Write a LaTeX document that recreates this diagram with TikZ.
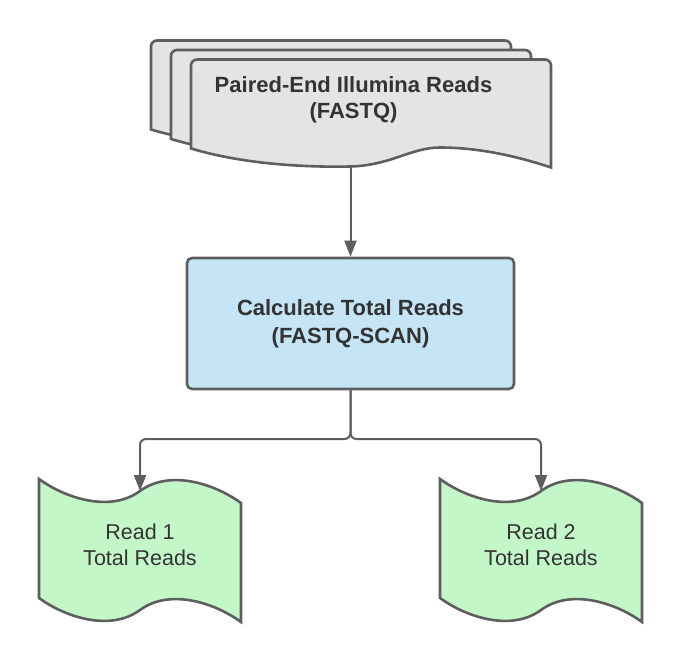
\documentclass[tikz,border=0pt]{standalone}
\usepackage{fontspec}
\setmainfont{Liberation Sans}
\usepackage{xcolor}
\usetikzlibrary{arrows.meta}
\definecolor{edgegray}{HTML}{5E5E5E}
\definecolor{textgray}{HTML}{333333}
\definecolor{sheetgray}{HTML}{E4E4E4}
\definecolor{procblue}{HTML}{C5E5F6}
\definecolor{readgreen}{HTML}{C3F7C8}

\begin{document}
\begin{tikzpicture}[x=1pt, y=-1pt,
            outline/.style={draw=edgegray, line width=2.6pt},
            txt/.style={text=textgray, align=center, font=\fontsize{21.5}{26.5}\selectfont},
            boldtxt/.style={txt, font=\fontsize{22}{26}\selectfont\bfseries},
            conn/.style={draw=edgegray, line width=2pt, rounded corners=6pt, -{Triangle[length=16pt, width=12pt]}},
            pics/sheet/.style={code={
                \draw[outline, fill=sheetgray] (0,89) [rounded corners=6pt] -- (0,0) -- (360,0) -- (360,20) [sharp corners] -- (360,108)
                    .. controls (330,98) and (290,88) .. (249,88) .. controls (220,88) and (200,106) .. (159,107)
                    .. controls (110,108) and (50,104) .. cycle;}},
            pics/tapeflag/.style={code={
                \draw[outline, fill=readgreen] (-101,-71.5) .. controls (-75,-52.5) and (-30,-37.5) .. (0,-59.5)
                    .. controls (30,-81.5) and (75,-66.5) .. (101,-47.5) -- (101,71.5)
                    .. controls (75,52.5) and (30,37.5) .. (0,59.5) .. controls (-30,81.5) and (-75,66.5) .. (-101,47.5) -- cycle;}}]
            \useasboundingbox (0,0) rectangle (680,660);
            \pic at (151,40.5) {sheet};
            \pic at (171,50) {sheet};
            \pic at (191,59.5) {sheet};
            \node[boldtxt] (fastq) at (353.5,100) {Paired-End Illumina Reads\\(FASTQ)};
            \coordinate (fastqout) at (350.5,166);
            \node[boldtxt, font=\fontsize{22}{28}\selectfont\bfseries, outline, fill=procblue, rounded corners=5pt,
                minimum width=327pt, minimum height=131pt] (calc) at (350.5,323.5) {Calculate Total Reads\\(FASTQ-SCAN)};
            \pic at (140,550.5) {tapeflag};
            \pic at (541,550.5) {tapeflag};
            \node[txt] (read1) at (140,545) {Read 1\\Total Reads};
            \node[txt] (read2) at (541,545) {Read 2\\Total Reads};
            \coordinate (read1in) at (140,491);
            \coordinate (read2in) at (541,491);
            \coordinate (fork) at (350.5,439);
            \draw[conn] (fastqout) -- (calc);
            \draw[conn] (calc) -- (fork) -| (read1in);
            \draw[conn] (calc) -- (fork) -| (read2in);
        \end{tikzpicture}
\end{document}
